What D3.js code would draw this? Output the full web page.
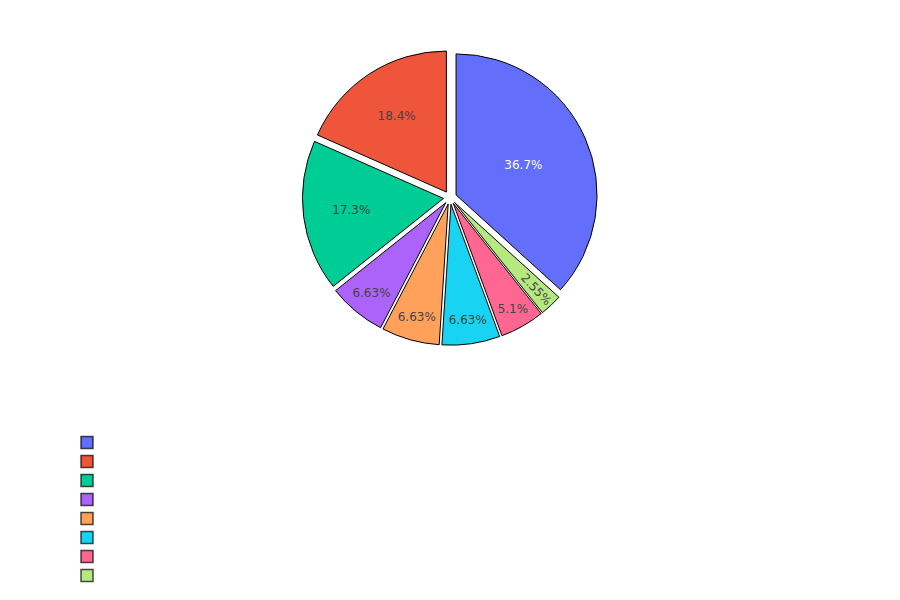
<!DOCTYPE html>
<html>
<head>
<meta charset="utf-8">
<script src="https://cdn.jsdelivr.net/npm/d3@7"></script>
<style>
  html, body { margin: 0; padding: 0; background: #fff; }
  svg { display: block; }
</style>
</head>
<body>
<svg id="chart" width="900" height="600"></svg>
<script>
// ---- data ----
const categories = ["", "", "", "", "", "", "", ""];
const values = [72, 36, 34, 13, 13, 13, 10, 5];
const colors = ["#636efa", "#EF553B", "#00cc96", "#ab63fa", "#FFA15A", "#19d3f3", "#FF6692", "#B6E880"];

// ---- layout ----
const W = 900, H = 600;
const cx = 450, cy = 197.6, R = 141;
const pullFrac = 0.047;
const TEXTPAD = 3;
const fontFamily = "'DejaVu Sans', Verdana, sans-serif";
const fontSize = 12;

const svg = d3.select("#chart");
const total = d3.sum(values);

const data = values.map((v, i) => ({ v, i, cat: categories[i], color: colors[i] }));

// counterclockwise layout, first slice ending at 12 o'clock
const a0 = 2 * Math.PI * values[0] / total;
const pie = d3.pie().sort(null).value(d => d.v).startAngle(a0).endAngle(a0 - 2 * Math.PI);
const arcs = pie(data);

const arcGen = d3.arc().innerRadius(0).outerRadius(R);

const gPie = svg.append("g");

arcs.forEach(a => {
  const mid = (a.startAngle + a.endAngle) / 2;
  const dx = Math.sin(mid), dy = -Math.cos(mid);
  a.mid = mid;
  a.ux = dx; a.uy = dy;
  a.px = cx + dx * pullFrac * R;
  a.py = cy + dy * pullFrac * R;
});

const slices = gPie.selectAll("g.slice").data(arcs).join("g")
  .attr("class", "slice")
  .attr("transform", d => `translate(${d.px},${d.py})`);

slices.append("path")
  .attr("d", d => arcGen({ startAngle: Math.min(d.startAngle, d.endAngle), endAngle: Math.max(d.startAngle, d.endAngle) }))
  .attr("fill", d => d.data.color)
  .attr("stroke", "#000")
  .attr("stroke-width", 1)
  .attr("stroke-linejoin", "round");

// ---- inside text (plotly-like auto orientation) ----
function isDark(hex) {
  const c = d3.rgb(hex);
  return (c.r * 299 + c.g * 587 + c.b * 114) / 1000 < 128;
}
function maxHalfSize(a, half, r) {
  const q = a + 1 / (2 * Math.tan(half));
  return r * Math.min(1 / (Math.sqrt(q * q + 0.5) + q), 1 / (Math.sqrt(a * a + 0.5) + a));
}

const fmt = v => {
  const p = v / total * 100;
  return d3.format(".3~r")(p) + "%";
};

slices.each(function(d) {
  const g = d3.select(this);
  const t = g.append("text")
    .attr("font-family", fontFamily)
    .attr("font-size", fontSize)
    .attr("fill", isDark(d.data.color) ? "#fff" : "#444")
    .text(fmt(d.data.v));
  const bb = t.node().getBBox();
  const w = bb.width, h = bb.height;
  const half = Math.abs(d.endAngle - d.startAngle) / 2;

  const rIns = Math.min(1 / (1 + 1 / Math.sin(Math.min(half, Math.PI / 2))), 0.5);
  const transforms = [];
  const ins = { scale: rIns * R * 2 / Math.sqrt(w * w + h * h), rCenter: 1 - rIns, rotate: 0 };
  let chosen;
  if (ins.scale >= 1) {
    chosen = ins;
  } else {
    transforms.push(ins);
    const rr = Math.max(0, R - 2 * TEXTPAD);
    let screenAng = Math.atan2(d.uy, d.ux) * 180 / Math.PI;
    const norm = ang => { while (ang > 90) ang -= 180; while (ang < -90) ang += 180; return ang; };
    // radial
    let a = w / h;
    let s = maxHalfSize(a, half, rr);
    transforms.push({ scale: s * 2 / h, rCenter: Math.cos(s / rr) - a * s / rr, rotate: norm(screenAng) });
    // tangential
    a = h / w;
    s = maxHalfSize(a, half, rr);
    transforms.push({ scale: s * 2 / w, rCenter: Math.cos(s / rr) - a * s / rr, rotate: norm(screenAng + 90) });
    let best = 0, mx = 0;
    transforms.forEach((tr, k) => { if (mx < tr.scale) { mx = tr.scale; best = k; } });
    chosen = transforms[best];
  }
  const sc = Math.min(1, chosen.scale);
  const tx = d.ux * R * chosen.rCenter;
  const ty = d.uy * R * chosen.rCenter;
  const bcx = bb.x + w / 2, bcy = bb.y + h / 2;
  t.attr("transform", `translate(${tx},${ty}) rotate(${chosen.rotate}) scale(${sc}) translate(${-bcx},${-bcy})`);
});

// ---- legend ----
const legX = 87, legY0 = 442.5, legStep = 19;
const legend = svg.append("g");
const items = legend.selectAll("g").data(data).join("g")
  .attr("transform", (d, i) => `translate(${legX},${legY0 + i * legStep})`);
items.append("rect")
  .attr("x", -6).attr("y", -6).attr("width", 12).attr("height", 12)
  .attr("fill", d => d.color)
  .attr("stroke", "#000")
  .attr("stroke-opacity", 0.7)
  .attr("stroke-width", 1.5);
items.append("text")
  .attr("x", 14).attr("y", 4)
  .attr("font-family", fontFamily)
  .attr("font-size", fontSize)
  .attr("fill", "#444")
  .text(d => d.cat);
</script>
</body>
</html>
